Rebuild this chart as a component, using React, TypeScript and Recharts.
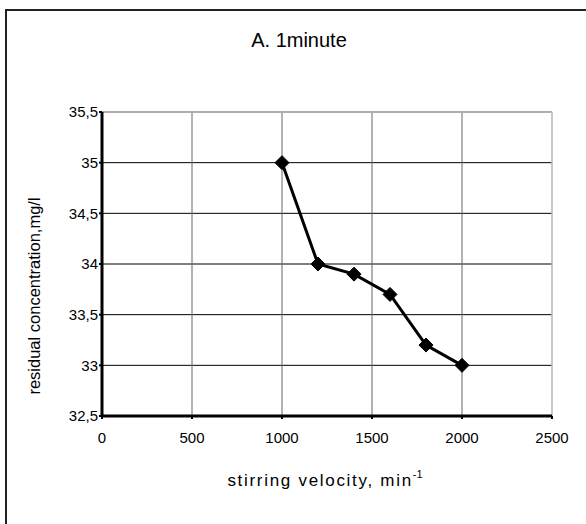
import React from 'react';
import { LineChart, Line, XAxis, YAxis, CartesianGrid, ReferenceLine } from 'recharts';

const velocity = [1000, 1200, 1400, 1600, 1800, 2000];
const concentration = [35, 34, 33.9, 33.7, 33.2, 33.0];
const xTicks = [0, 500, 1000, 1500, 2000, 2500];
const yTicks = [32.5, 33, 33.5, 34, 34.5, 35, 35.5];

const data = velocity.map((v, i) => ({ v, c: concentration[i] }));

const FONT = '"Liberation Sans", Arial, sans-serif';

const Diamond = (props: any) => {
  const { cx, cy, index } = props;
  if (cx == null || cy == null) return null;
  const r = 7;
  return (
    <polygon
      key={`d-${index}`}
      points={`${cx},${cy - r} ${cx + r},${cy} ${cx},${cy + r} ${cx - r},${cy}`}
      fill="#000"
      stroke="#000"
    />
  );
};

export default function App() {
  return (
    <div style={{ position: 'absolute', left: 0, top: 0, width: 586, height: 524, background: '#fff', overflow: 'hidden' }}>
      <div
        style={{
          position: 'absolute',
          left: 5,
          top: 9,
          width: 700,
          height: 700,
          borderTop: '2px solid #222',
          borderLeft: '2px solid #222',
        }}
      />
      <div style={{ position: 'absolute', left: 0, top: 0 }}>
        <LineChart width={586} height={524} data={data} margin={{ top: 112, right: 34, bottom: 78, left: 42 }}>
          <CartesianGrid vertical={false} stroke="#000" strokeWidth={1} />
          <CartesianGrid horizontal={false} stroke="#666" strokeWidth={1} />
          <ReferenceLine y={35.5} stroke="#ddd" strokeWidth={1} />
          <ReferenceLine x={2500} stroke="#ddd" strokeWidth={1} />
          <XAxis
            dataKey="v"
            type="number"
            domain={[0, 2500]}
            ticks={xTicks}
            height={30}
            axisLine={{ stroke: '#000', strokeWidth: 3 }}
            tickLine={{ stroke: '#000', strokeWidth: 2 }}
            tickSize={3}
            tickMargin={13}
            tick={{ fill: '#000', fontSize: 15, fontFamily: FONT }}
            interval={0}
          />
          <YAxis
            type="number"
            domain={[32.5, 35.5]}
            ticks={yTicks}
            width={60}
            axisLine={{ stroke: '#000', strokeWidth: 3 }}
            tickLine={{ stroke: '#000', strokeWidth: 2 }}
            tickSize={3}
            tickMargin={1}
            tick={{ fill: '#000', fontSize: 15, fontFamily: FONT }}
            tickFormatter={(t: number) => String(t).replace('.', ',')}
            interval={0}
          />
          <Line
            dataKey="c"
            type="linear"
            stroke="#000"
            strokeWidth={3}
            dot={Diamond}
            activeDot={false}
            isAnimationActive={false}
          />
        </LineChart>
      </div>
      <svg width={586} height={524} style={{ position: 'absolute', left: 0, top: 0, pointerEvents: 'none' }}>
        <text x={299} y={47} textAnchor="middle" fontSize={20} fontFamily={FONT} fill="#000">
          A. 1minute
        </text>
        <text
          x={0}
          y={0}
          transform="translate(40,296) rotate(-90)"
          textAnchor="middle"
          fontSize={16.5}
          fontFamily={FONT}
          fill="#000"
        >
          residual concentration,mg/l
        </text>
        <text x={325} y={486} textAnchor="middle" fontSize={17} fontFamily={FONT} fill="#000" letterSpacing={1.7}>
          stirring velocity, min
          <tspan fontSize={11} dy={-8} letterSpacing={0}>-1</tspan>
        </text>
      </svg>
    </div>
  );
}
